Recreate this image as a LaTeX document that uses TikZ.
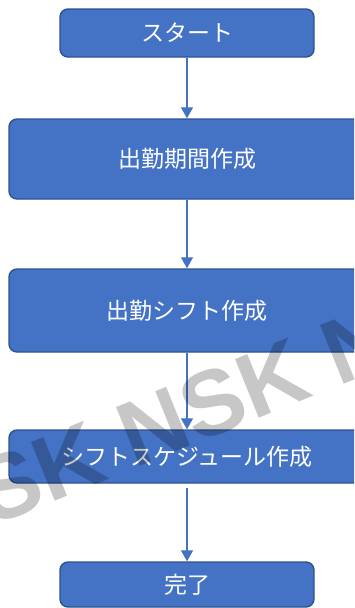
\documentclass[tikz,border=0pt]{standalone}
\usepackage{fontspec}
\newfontfamily\jpfont{Noto Sans CJK JP}
\newfontfamily\wmfont{Liberation Sans}
\usetikzlibrary{arrows.meta}
\definecolor{boxfill}{HTML}{4472C4}
\definecolor{boxline}{HTML}{2F528F}
\definecolor{arrowc}{HTML}{4472C4}
\begin{document}
\begin{tikzpicture}[x=1pt,y=-1pt,
  box/.style={draw=boxline, line width=1.4pt, fill=boxfill, rounded corners=8pt,
    text=white, font=\jpfont\fontsize{23}{27}\selectfont, inner sep=0pt},
  flow/.style={draw=arrowc, line width=1.3pt, -{Triangle[width=12pt,length=11pt]}},
  watermark/.style={rotate=22, opacity=0.22, text=black, inner sep=0pt,
    font=\wmfont\bfseries\fontsize{92}{92}\selectfont}]
\useasboundingbox (0,0) rectangle (354,608);
\clip (0,0) rectangle (354,608);
\node[box, minimum width=254pt, minimum height=48pt] (start) at (187,33) {スタート};
\node[box, minimum width=356pt, minimum height=80pt] (kikan) at (187,159) {出勤期間作成};
\node[box, minimum width=356pt, minimum height=83pt] (shift) at (187,310.5) {出勤シフト作成};
\node[box, minimum width=356pt, minimum height=53pt] (sched) at (187,456.5) {シフトスケジュール作成};
\node[box, minimum width=254pt, minimum height=45pt] (done) at (187,584.5) {完了};
\draw[flow] (start.south) -- (kikan.north);
\draw[flow] (kikan.south) -- (shift.north);
\draw[flow] (shift.south) -- (sched.north);
\draw[flow, shorten <=4pt] (sched.south) -- (done.north);
\node[watermark] (wm) at (213,403) {NSK NSK NSK};
\end{tikzpicture}
\end{document}
